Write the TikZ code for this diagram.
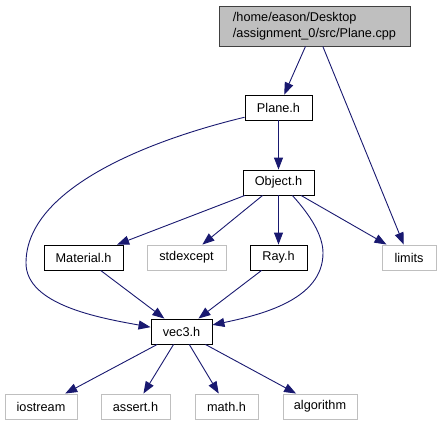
\documentclass[tikz,border=0pt]{standalone}
\usepackage{fontspec}
\setmainfont{Liberation Sans}
\usetikzlibrary{arrows.meta}
\definecolor{edgeblue}{RGB}{25,25,112}
\definecolor{sysgray}{RGB}{191,191,191}

\begin{document}
\begin{tikzpicture}[
    x=1pt, y=-1pt,
    font=\fontsize{12.7}{15.5}\selectfont,
    file/.style={draw=black, line width=.9pt, minimum height=25pt, inner sep=0pt,
      fill=white},
    sysfile/.style={draw=sysgray, line width=.9pt, minimum height=25pt, inner sep=0pt,
      fill=white},
    rootfile/.style={draw=black!75, line width=.9pt, minimum width=191pt, minimum height=40pt,
      inner sep=0pt, align=left, fill=sysgray},
    edge/.style={-{Triangle[length=12pt, width=9pt]}, line width=.9pt, draw=edgeblue}
  ]
    \useasboundingbox (0,0) rectangle (441,425);
    \node[rootfile] (root) at (314.5,26) {/home/eason/Desktop\\/assignment\_0/src/Plane.cpp};
    \node[file, minimum width=67pt] (plane) at (278.5,107.5) {Plane.h};
    \node[file, minimum width=71pt] (object) at (278.5,182.5) {Object.h};
    \node[file, minimum width=79pt] (material) at (83.5,257.5) {Material.h};
    \node[sysfile, minimum width=79pt] (stdexcept) at (186.5,257.5) {stdexcept};
    \node[file, minimum width=57pt] (ray) at (278.5,257.5) {Ray.h};
    \node[sysfile, minimum width=54pt] (limits) at (409,257.5) {limits};
    \node[file, minimum width=61pt] (vec3) at (181.5,331.5) {vec3.h};

    \draw[edge] (root) -- (plane);
    \draw[edge] (root) -- (limits);
    \draw[edge] (plane) -- (object);
    \draw[edge] (plane.196) .. controls (150,140) and (26,188) .. (26,263)
      .. controls (26,305) and (100,318) .. (vec3.172);
    \foreach \n in {material,stdexcept,ray,limits} {
      \draw[edge] (object) -- (\n);
    }
    \draw[edge] (object.-43) .. controls (310,215) and (323,235) .. (323,253)
      .. controls (323,300) and (260,315) .. (vec3.12);
    \draw[edge] (material) -- (vec3);
    \draw[edge] (ray) -- (vec3);

    \foreach \n/\x/\w/\t in {iostream/41/72/iostream, assert/135.5/69/assert.h,
        math/226.5/63/math.h, algorithm/320/74/algorithm} {
      \node[sysfile, minimum width=\w pt] (\n) at (\x,406.5) {\t};
      \draw[edge] (vec3) -- (\n);
    }
  \end{tikzpicture}
\end{document}
